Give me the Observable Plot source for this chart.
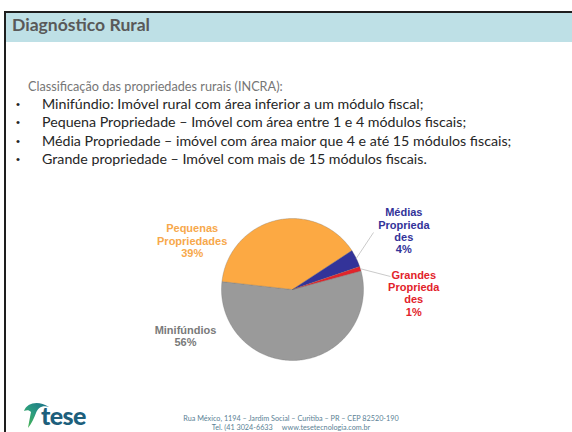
<!DOCTYPE html>
<html><head><meta charset="utf-8">
<script src="https://cdn.jsdelivr.net/npm/d3@7"></script>
<script src="https://cdn.jsdelivr.net/npm/@observablehq/plot@0.6"></script>
<style>
html,body{margin:0;padding:0;background:#fff;}
#slide{position:relative;width:572px;height:432px;overflow:hidden;font-family:Lato,"Open Sans",sans-serif;}
.bt{position:absolute;left:4px;top:11px;width:568px;height:2px;background:#1e1e1e;}
.bl{position:absolute;left:4px;top:11px;width:2px;height:421px;background:#1e1e1e;}
.hd{position:absolute;left:6px;top:13px;width:566px;height:29px;background:#BEE0E6;}
.title{position:absolute;left:12px;top:14px;line-height:22px;font-weight:bold;color:#595959;white-space:nowrap;}
.intro{position:absolute;left:28px;white-space:nowrap;color:#767676;}
.bul{position:absolute;white-space:nowrap;color:#262626;}
.dot{position:absolute;left:16px;color:#262626;font-family:"Liberation Sans",Arial,sans-serif;}
.foot{position:absolute;white-space:nowrap;color:#5b7f95;text-align:center;width:300px;left:141px;}
#chart{position:absolute;left:130px;top:195px;}
</style></head>
<body>
<div id="slide">
  <div class="hd"></div><div class="bt"></div><div class="bl"></div>
  <div class="title" id="title">Diagnóstico Rural</div>
  <div id="text"></div>
  <div id="chart"></div>
  <svg style="position:absolute;left:0;top:396px" width="120" height="34">
    <defs><linearGradient id="lg" x1="1" y1="0" x2="0" y2="1">
      <stop offset="0" stop-color="#1b6f8a"/><stop offset="0.5" stop-color="#2a9a80"/><stop offset="1" stop-color="#4cb848"/></linearGradient></defs>
    <path d="M24 15 C27 7,38 4,49 11 C42 9,38 12,36 17 C34 22,32 27,28 32 C29 26,30 21,31 16 C29 14,27 14,24 15 Z" fill="url(#lg)"/>
    <text x="41" y="29" font-family="Lato, sans-serif" font-weight="900" font-size="25" letter-spacing="-0.6" fill="#1d5f7c">tese</text>
  </svg>
  <div class="foot" id="f1"></div>
  <div class="foot" id="f2"></div>
</div>
<script>
// ---- data ----
const categories = ["Minifúndios", "Pequenas Propriedades", "Médias Propriedades", "Grandes Propriedades"];
const shares = [56, 39, 4, 1];
const labelLines = [["Minifúndios", "56%"], ["Pequenas", "Propriedades", "39%"], ["Médias", "Proprieda", "des", "4%"], ["Grandes", "Proprieda", "des", "1%"]];
const titleText = "Diagnóstico Rural";
const introText = "Classificação das propriedades rurais (INCRA):";
const bulletTexts = [
  "Minifúndio: Imóvel rural com área inferior a um módulo fiscal;",
  "Pequena Propriedade – Imóvel com área entre 1 e 4 módulos fiscais;",
  "Média Propriedade – imóvel com área maior que 4 e até 15 módulos fiscais;",
  "Grande propriedade – Imóvel com mais de 15 módulos fiscais."
];
const footerLines = ["Rua México, 1194 – Jardim Social – Curitiba – PR – CEP 82520-190", "Tel. (41 3024-6633     www.tesetecnologia.com.br"];

// ---- styles ----
const sliceColors = ["#9a9a9a", "#FCA943", "#333399", "#E2232A"];
const labelColors = ["#7a7a7a", "#F7A84B", "#333399", "#E2232A"];

// ---- text fitting helper ----
const cv = document.createElement("canvas").getContext("2d");
function fit(text, family, weight, target) {
  cv.font = `${weight} 100px ${family}`;
  return 100 * target / cv.measureText(text).width;
}
const fam = 'Lato, "Open Sans", sans-serif';
document.getElementById("title").style.fontSize = fit(titleText, fam, "bold", 138) + "px";
const bodySize = fit(bulletTexts[2], fam, "normal", 470);
const introSize = fit(introText, fam, "normal", 255);
const tx = document.getElementById("text");
const lineY = [86, 104, 122, 140.5, 158.5];
function addDiv(cls, txt, left, y, size) {
  const d = document.createElement("div");
  d.className = cls; d.textContent = txt;
  d.style.fontSize = size + "px"; d.style.lineHeight = "18px";
  d.style.top = (y - 9) + "px";
  if (left != null) d.style.left = left + "px";
  tx.appendChild(d);
}
addDiv("intro", introText, null, lineY[0], introSize);
bulletTexts.forEach((t, i) => { addDiv("dot", "•", null, lineY[i + 1], bodySize * 0.8); addDiv("bul", t, 42, lineY[i + 1], bodySize); });
const fs = fit(footerLines[0], fam, "normal", 216);
[["f1", 418], ["f2", 427]].forEach(([id, y], i) => {
  const e = document.getElementById(id);
  e.textContent = footerLines[i];
  e.style.fontSize = fs + "px"; e.style.lineHeight = "9px"; e.style.top = (y - 4.5) + "px";
  e.style.whiteSpace = "pre";
});

// ---- pie ----
const rows = categories.map((c, i) => ({cat: c, share: shares[i], lines: labelLines[i]}));
const START = 74.8 * Math.PI / 180;
const arcs = d3.pie().sort(null).value(d => d.share).startAngle(START).endAngle(START + 2 * Math.PI)(rows);
const poly = arcs.flatMap(a => {
  const n = Math.max(2, Math.ceil((a.endAngle - a.startAngle) / (Math.PI / 180)));
  const pts = [{cat: a.data.cat, x: 0, y: 0}];
  for (let k = 0; k <= n; k++) {
    const t = a.startAngle + (a.endAngle - a.startAngle) * k / n;
    pts.push({cat: a.data.cat, x: Math.sin(t), y: Math.cos(t)});
  }
  pts.push({cat: a.data.cat, x: 0, y: 0});
  return pts;
});
// label placement (layout, in radius units from the pie centre)
const labelAt = {"Minifúndios": [-1.507, -0.659], "Pequenas Propriedades": [-1.413, 0.687], "Médias Propriedades": [1.568, 0.828], "Grandes Propriedades": [1.708, -0.052]};
const leaderEnd = {"Médias Propriedades": [1.141, 0.803], "Grandes Propriedades": [1.38, 0.183]};
const leaders = arcs.filter(a => leaderEnd[a.data.cat]).map(a => {
  const m = (a.startAngle + a.endAngle) / 2;
  const [x2, y2] = leaderEnd[a.data.cat];
  return {x1: Math.sin(m), y1: Math.cos(m), x2, y2};
});
const W = 340, H = 175, cx = 162, cy = 94, R = 71;
const chart = Plot.plot({
  width: W, height: H, margin: 0,
  style: {background: "transparent", overflow: "visible"},
  x: {domain: [-cx / R, (W - cx) / R], axis: null},
  y: {domain: [-(H - cy) / R, cy / R], axis: null},
  color: {domain: categories, range: sliceColors},
  marks: [
    Plot.line(poly, {x: "x", y: "y", z: "cat", fill: "cat", stroke: "#6a6a6a", strokeWidth: 0.5, strokeOpacity: 0.6}),
    Plot.link(leaders, {x1: "x1", y1: "y1", x2: "x2", y2: "y2", stroke: "#bdbdbd", strokeWidth: 0.8}),
    ...rows.map((r, i) => Plot.text([r], {
      x: d => labelAt[d.cat][0], y: d => labelAt[d.cat][1],
      text: d => d.lines.join("\n"),
      fill: labelColors[i], fontWeight: "bold", fontSize: 11, lineHeight: 1.12,
      fontFamily: '"Liberation Sans", Arial, sans-serif'
    }))
  ]
});
document.getElementById("chart").appendChild(chart);
</script>
</body></html>
